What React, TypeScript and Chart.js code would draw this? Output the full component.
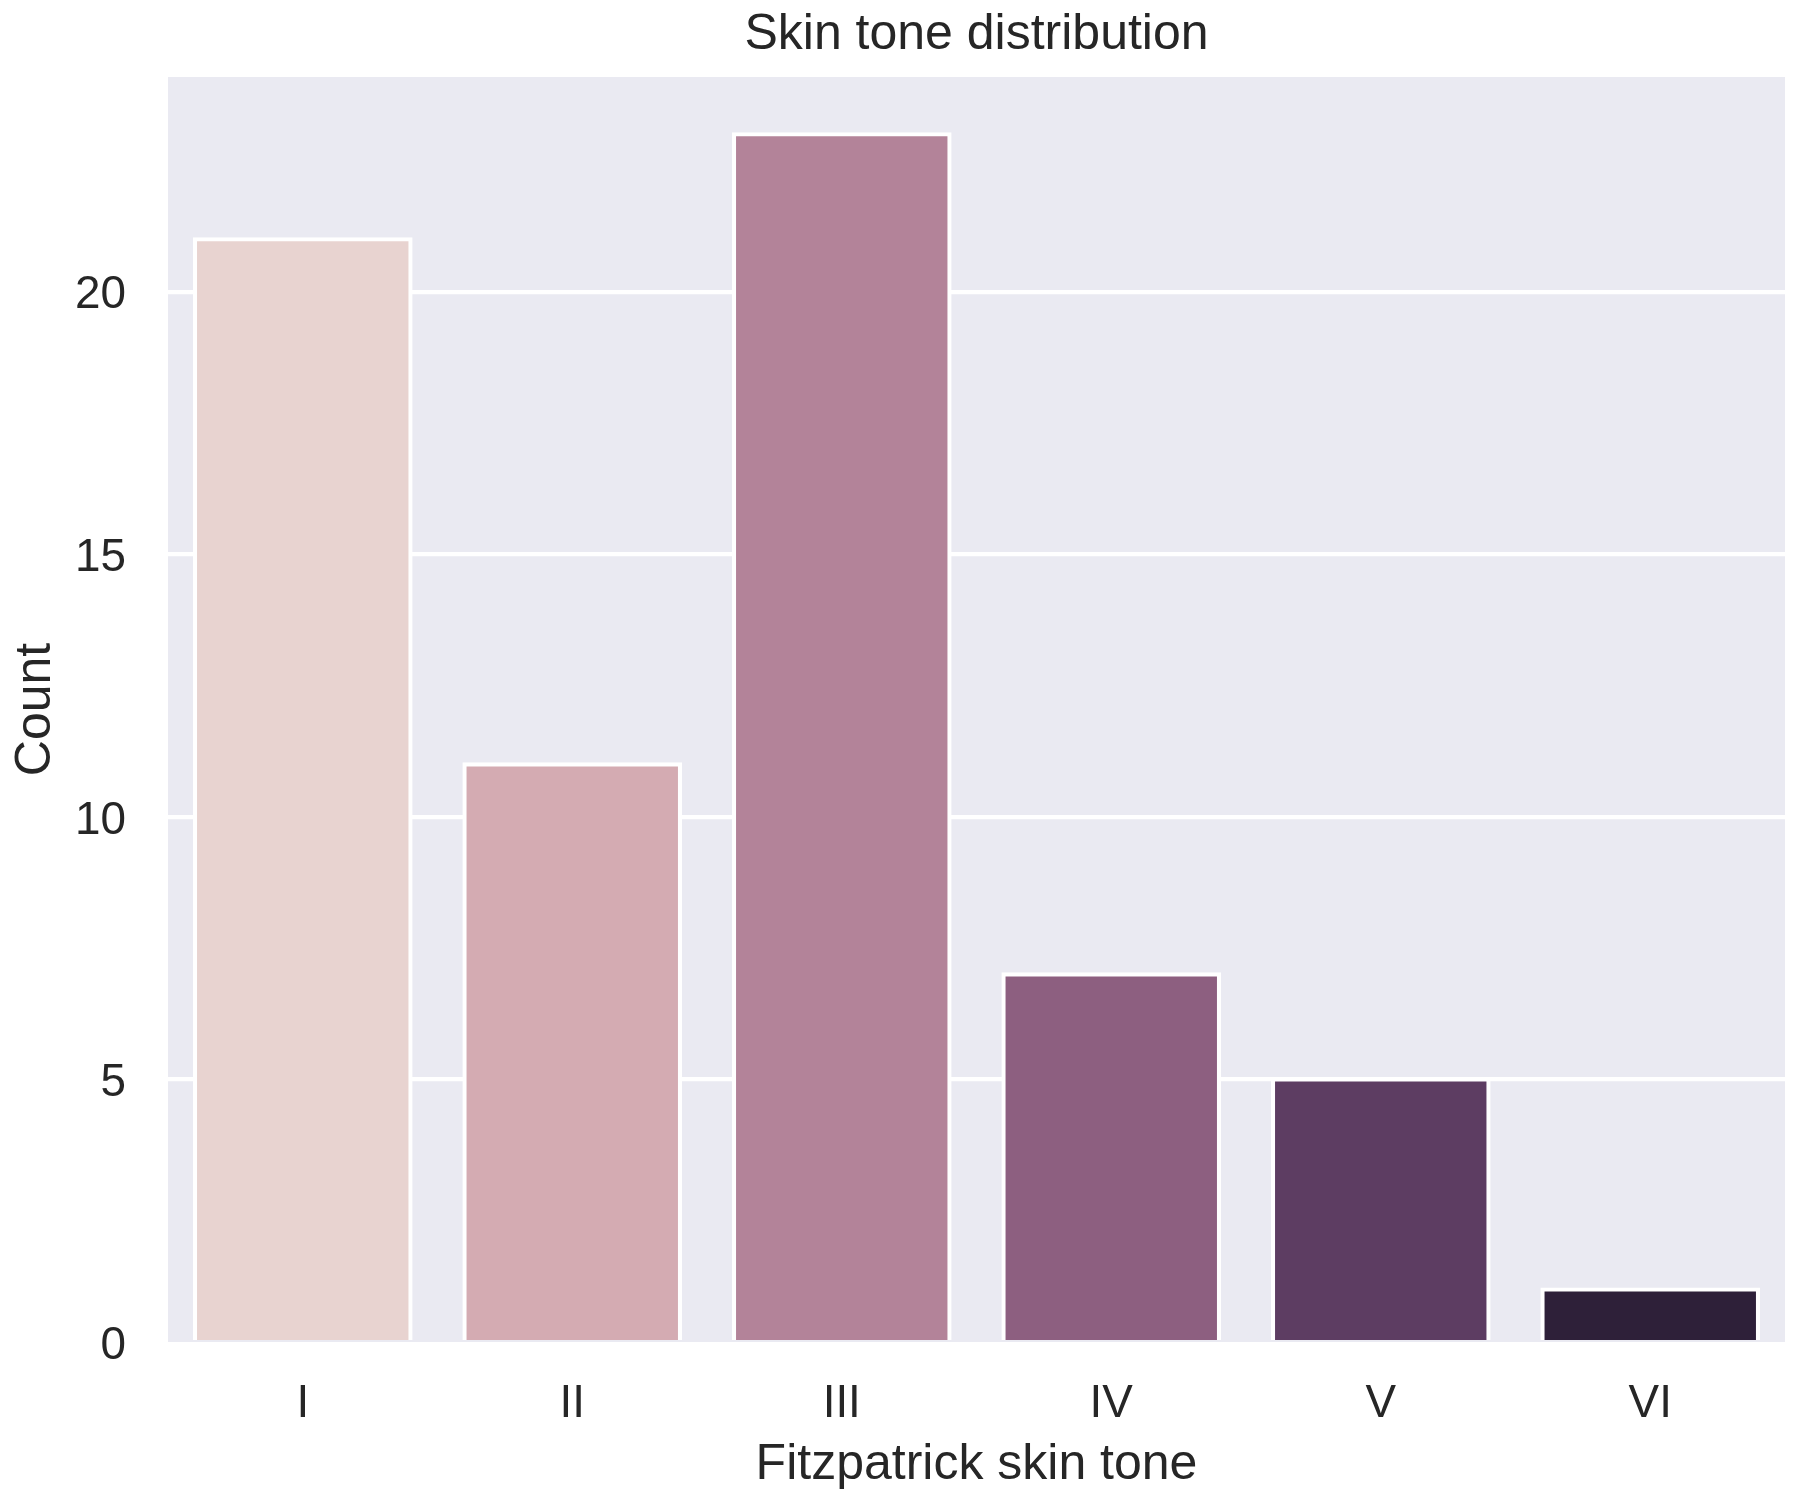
import React, { useEffect, useRef } from "react";
import { Chart, registerables } from "chart.js";

Chart.register(...registerables);

const categories = ["I", "II", "III", "IV", "V", "VI"];
const counts = [21, 11, 23, 7, 5, 1];
const barColors = ["#E8D3D0", "#D4ABB2", "#B38399", "#8D5F80", "#5D3D62", "#2E2039"];
const yTicks = [0, 5, 10, 15, 20];
const yMax = 24.09;
const titleText = "Skin tone distribution";
const xLabel = "Fitzpatrick skin tone";
const yLabel = "Count";

const FONT = "'Liberation Sans', Arial, sans-serif";
const TEXT = "#262626";

const bgPlugin = {
  id: "plotBg",
  beforeDraw(chart: any) {
    const { ctx, chartArea } = chart;
    ctx.save();
    ctx.fillStyle = "#EAEAF2";
    ctx.fillRect(chartArea.left, chartArea.top, chartArea.right - chartArea.left, chartArea.bottom - chartArea.top);
    ctx.restore();
  },
};

export default function App() {
  const ref = useRef<HTMLCanvasElement | null>(null);

  useEffect(() => {
    if (!ref.current) return;
    const chart = new Chart(ref.current, {
      type: "bar",
      data: {
        labels: categories,
        datasets: [
          {
            data: counts,
            backgroundColor: barColors,
            borderColor: "#ffffff",
            borderWidth: 4.17,
            inflateAmount: 2.08,
            categoryPercentage: 0.8,
            barPercentage: 1,
          },
        ],
      },
      options: {
        animation: false,
        responsive: false,
        devicePixelRatio: 1,
        layout: { padding: { left: 0, right: 15, top: 0, bottom: 0 } },
        plugins: {
          legend: { display: false },
          tooltip: { enabled: false },
          title: {
            display: true,
            text: titleText,
            color: TEXT,
            fullSize: false,
            font: { family: FONT, size: 50, weight: "normal" },
            padding: { top: 5, bottom: 12 },
          },
        },
        scales: {
          x: {
            grid: { display: false, drawTicks: false },
            border: { display: false },
            ticks: { color: TEXT, font: { family: FONT, size: 45.83 }, padding: 35 },
            title: {
              display: true,
              text: xLabel,
              color: TEXT,
              font: { family: FONT, size: 50 },
              padding: { top: 0, bottom: 5 },
            },
            afterFit: (scale: any) => {
              scale.height = 158;
            },
          },
          y: {
            min: 0,
            max: yMax,
            grid: {
              color: (ctx: any) => (ctx.tick && ctx.tick.value === 0 ? "rgba(0,0,0,0)" : "#ffffff"),
              lineWidth: 4.17,
              drawTicks: false,
            },
            border: { display: false },
            ticks: {
              color: TEXT,
              font: { family: FONT, size: 45.83 },
              padding: 42,
              labelOffset: 4,
              includeBounds: false,
              stepSize: 5,
            },
            afterBuildTicks: (scale: any) => {
              scale.ticks = yTicks.map((v) => ({ value: v }));
            },
            title: {
              display: true,
              text: yLabel,
              color: TEXT,
              font: { family: FONT, size: 50 },
              padding: { top: 6, bottom: 0 },
            },
            afterFit: (scale: any) => {
              scale.width = 168;
            },
          },
        },
      },
      plugins: [bgPlugin],
    } as any);
    return () => chart.destroy();
  }, []);

  return (
    <div style={{ position: "absolute", left: 0, top: 0, width: 1800, height: 1500, background: "#ffffff" }}>
      <canvas ref={ref} width={1800} height={1500} style={{ width: 1800, height: 1500 }} />
    </div>
  );
}
